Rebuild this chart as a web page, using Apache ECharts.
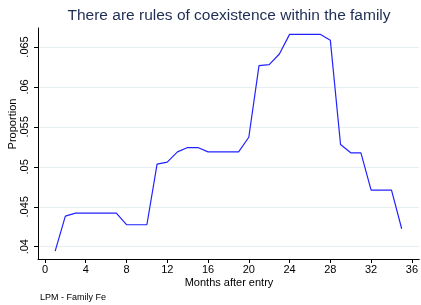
<!DOCTYPE html>
<html><head><meta charset="utf-8">
<script src="https://cdn.jsdelivr.net/npm/echarts@6/dist/echarts.min.js"></script>
<style>html,body{margin:0;padding:0;background:#fff}#c{width:421px;height:305px}</style>
</head><body><div id="c"></div>
<script>
const months = [1,2,3,4,5,6,7,8,9,10,11,12,13,14,15,16,17,18,19,20,21,22,23,24,25,26,27,28,29,30,31,32,33,34,35];
const proportion = [0.03945,0.04383,0.0442,0.0442,0.0442,0.0442,0.0442,0.04275,0.04275,0.04275,0.05033,0.05058,0.05187,0.05241,0.05241,0.05187,0.05187,0.05187,0.05187,0.0537,0.06266,0.06279,0.06412,0.06658,0.06658,0.06658,0.06658,0.06583,0.05279,0.05175,0.05175,0.04708,0.04708,0.04708,0.04225];
const xTicks = [0,4,8,12,16,20,24,28,32,36];
const yTicks = [0.04,0.045,0.05,0.055,0.06,0.065];
const yTickLabels = ['.04','.045','.05','.055','.06','.065'];
const titleText = 'There are rules of coexistence within the family';
const xTitle = 'Months after entry';
const yTitle = 'Proportion';
const note = 'LPM - Family Fe';

const chart = echarts.init(document.getElementById('c'), null, {renderer:'canvas'});
const font = 'Liberation Sans, Arial, sans-serif';
chart.setOption({
  animation:false,
  grid:{left:38,right:0,top:28,bottom:46,containLabel:false},
  xAxis:{type:'value',min:-0.684,max:36.72,
    axisLine:{show:true,onZero:false,lineStyle:{color:'#000',width:1}},
    axisTick:{show:true,length:4,customValues:xTicks,lineStyle:{color:'#000'}},
    axisLabel:{customValues:xTicks,fontFamily:font,fontSize:11,color:'#000',margin:5},
    splitLine:{show:false}
  },
  yAxis:{type:'value',min:0.03846,max:0.067375,
    axisLine:{show:true,onZero:false,lineStyle:{color:'#000',width:1}},
    axisTick:{show:true,length:4,customValues:yTicks,lineStyle:{color:'#000'}},
    axisLabel:{customValues:yTicks,rotate:90,fontFamily:font,fontSize:11,color:'#000',margin:8,
      formatter:function(v){const i=yTicks.findIndex(t=>Math.abs(t-v)<1e-9);return i>=0?yTickLabels[i]:'';}},
    splitLine:{show:true,customValues:yTicks,lineStyle:{color:'#e6eff1',width:1}}
  },
  series:[{type:'line',data:months.map((m,i)=>[m,proportion[i]]),symbol:'none',lineStyle:{color:'#2222ff',width:1.2}}],
  graphic:[
    {type:'text',style:{text:titleText,font:'15.5px '+font,fill:'#1e2d53',align:'center',verticalAlign:'middle'},x:229,y:16},
    {type:'text',style:{text:xTitle,font:'11px '+font,fill:'#000',align:'center',verticalAlign:'middle'},x:229,y:283},
    {type:'text',style:{text:yTitle,font:'11px '+font,fill:'#000',align:'center',verticalAlign:'middle'},x:13,y:124,rotation:Math.PI/2},
    {type:'text',style:{text:note,font:'9px '+font,fill:'#000',verticalAlign:'middle'},x:40,y:298}
  ]
});
</script></body></html>
